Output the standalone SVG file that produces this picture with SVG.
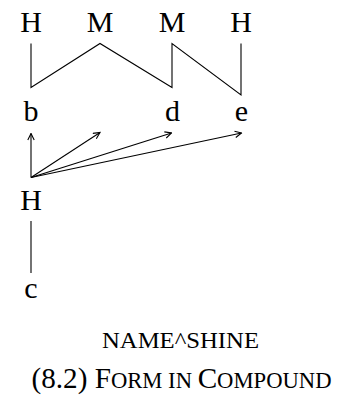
<svg xmlns="http://www.w3.org/2000/svg" width="342" height="397" viewBox="0 0 342 397">
<style>
  .t { font-family: "Liberation Serif", "Times New Roman", serif; font-size: 30px; fill: #000; text-anchor: middle; }
  .cap { font-family: "Liberation Serif", "Times New Roman", serif; fill: #000; }
  .ln { fill: none; stroke: #000; stroke-width: 1.1; }
</style>
<defs>
  <marker id="ah" markerUnits="userSpaceOnUse" markerWidth="8" markerHeight="8" refX="7" refY="4" orient="auto">
    <path d="M0.5,0.8 L7,4 L0.5,7.2" fill="none" stroke="#000" stroke-width="1.1"/>
  </marker>
</defs>
<rect width="342" height="397" fill="#fff"/>
<g id="tone-H1"><text class="t" x="31" y="32">H</text></g>
<g id="tone-M1"><text class="t" x="100" y="32">M</text></g>
<g id="tone-M2"><text class="t" x="172" y="32">M</text></g>
<g id="tone-H2"><text class="t" x="241" y="32">H</text></g>
<g id="seg-b"><text class="t" x="31" y="121">b</text></g>
<g id="seg-d"><text class="t" x="172.5" y="121">d</text></g>
<g id="seg-e"><text class="t" x="241.5" y="121">e</text></g>
<g id="tone-H3"><text class="t" x="31" y="210">H</text></g>
<g id="seg-c"><text class="t" x="31" y="298">c</text></g>
<g id="connectors">
  <polyline class="ln" points="31,43.5 31,87.5 100,43.5 172,87.5 172,43.5 241,95 241,43.5"/>
  <line class="ln" x1="31" y1="177.5" x2="31" y2="133.5" marker-end="url(#ah)"/>
  <line class="ln" x1="31" y1="177.5" x2="100" y2="132.5" marker-end="url(#ah)"/>
  <line class="ln" x1="31" y1="177.5" x2="171.5" y2="133" marker-end="url(#ah)"/>
  <line class="ln" x1="31" y1="177.5" x2="241.5" y2="133" marker-end="url(#ah)"/>
  <line class="ln" x1="31" y1="221" x2="31" y2="273"/>
</g>
<g id="caption">
  <text class="cap" x="102" y="348" font-size="22.5" textLength="157" lengthAdjust="spacingAndGlyphs">NAME^SHINE</text>
  <text class="cap" x="31.5" y="388" font-size="29" textLength="300" lengthAdjust="spacingAndGlyphs">(8.2) F<tspan font-size="22.5">ORM IN </tspan>C<tspan font-size="22.5">OMPOUND</tspan></text>
</g>
</svg>
